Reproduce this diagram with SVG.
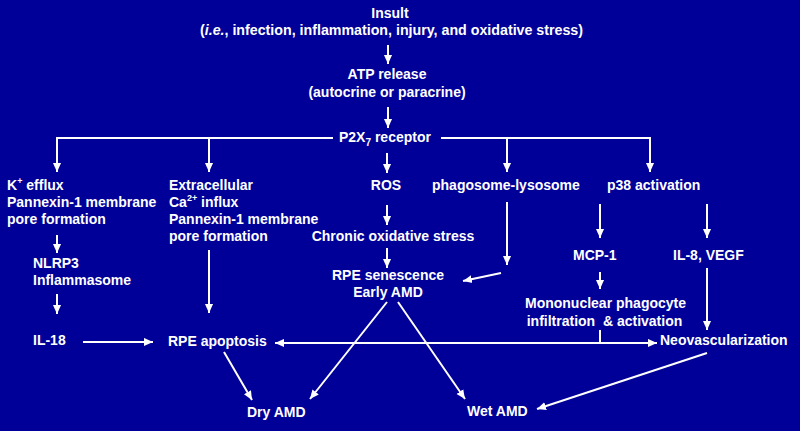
<svg xmlns="http://www.w3.org/2000/svg" width="800" height="431" viewBox="0 0 800 431">
<defs>
<marker id="ah" viewBox="0 0 10 10" refX="10" refY="5" markerWidth="9" markerHeight="9" markerUnits="userSpaceOnUse" orient="auto-start-reverse">
<path d="M0,0.5 L10,5 L0,9.5 Z" fill="#fff"/>
</marker>
<style>
text{font-family:"Liberation Sans",Arial,sans-serif;font-weight:bold;font-size:14px;fill:#fff}
.m{text-anchor:middle}
.c line,.c polyline{stroke:#fff;stroke-width:2;fill:none}
.a{marker-end:url(#ah)}
.b{marker-start:url(#ah);marker-end:url(#ah)}
</style>
</defs>
<rect width="800" height="431" fill="#000099"/>

<g id="insult">
<text class="m" x="390" y="18">Insult</text>
<text class="m" x="391.5" y="35" textLength="383" lengthAdjust="spacingAndGlyphs">(<tspan font-style="italic">i.e.</tspan>, infection, inflammation, injury, and oxidative stress)</text>
</g>
<g id="atp">
<text class="m" x="387" y="79">ATP release</text>
<text class="m" x="387" y="97">(autocrine or paracrine)</text>
</g>
<g id="p2x7">
<text x="339" y="142">P2X<tspan font-size="10" dy="4">7</tspan><tspan dy="-4"> receptor</tspan></text>
</g>
<g id="kefflux">
<text x="7" y="190">K<tspan font-size="9" dy="-6">+</tspan><tspan dy="6"> efflux</tspan></text>
<text x="7" y="207">Pannexin-1 membrane</text>
<text x="7" y="224">pore formation</text>
</g>
<g id="ca">
<text x="169" y="190">Extracellular</text>
<text x="169" y="207">Ca<tspan font-size="9" dy="-6">2+</tspan><tspan dy="6"> influx</tspan></text>
<text x="169" y="224">Pannexin-1 membrane</text>
<text x="169" y="241">pore formation</text>
</g>
<g id="ros"><text class="m" x="386" y="190">ROS</text></g>
<g id="phago"><text x="432" y="190">phagosome-lysosome</text></g>
<g id="p38"><text x="607" y="190">p38 activation</text></g>
<g id="nlrp3">
<text x="33" y="268">NLRP3</text>
<text x="33" y="285">Inflammasome</text>
</g>
<g id="il18"><text x="33" y="345">IL-18</text></g>
<g id="chronic"><text class="m" x="393" y="241">Chronic oxidative stress</text></g>
<g id="senescence">
<text class="m" x="388" y="280">RPE senescence</text>
<text class="m" x="388" y="297">Early AMD</text>
</g>
<g id="mcp1"><text x="573" y="260">MCP-1</text></g>
<g id="il8"><text x="673" y="260">IL-8, VEGF</text></g>
<g id="mono">
<text class="m" x="605.5" y="308">Mononuclear phagocyte</text>
<text class="m" x="604.5" y="326" style="white-space:pre">infiltration  &amp; activation</text>
</g>
<g id="apoptosis"><text x="168" y="346">RPE apoptosis</text></g>
<g id="neo"><text x="660" y="345">Neovascularization</text></g>
<g id="dry"><text x="247" y="417">Dry AMD</text></g>
<g id="wet"><text x="467" y="416">Wet AMD</text></g>

<g class="c" id="connectors">
<line class="a" x1="388" y1="45" x2="388" y2="64"/>
<line class="a" x1="388" y1="107" x2="388" y2="128"/>
<polyline points="333,138 57,138"/>
<polyline points="441,138 650,138"/>
<line class="a" x1="57" y1="137" x2="57" y2="172"/>
<line class="a" x1="209" y1="138" x2="209" y2="172"/>
<line class="a" x1="507" y1="138" x2="507" y2="172"/>
<line class="a" x1="650" y1="137" x2="650" y2="172"/>
<line class="a" x1="387" y1="153" x2="387" y2="173"/>
<line class="a" x1="57" y1="235" x2="57" y2="253"/>
<line class="a" x1="57" y1="294" x2="57" y2="314"/>
<line class="a" x1="209" y1="250" x2="209" y2="313"/>
<line class="a" x1="83" y1="342" x2="153" y2="342"/>
<line class="a" x1="387" y1="205" x2="387" y2="225"/>
<line class="a" x1="387" y1="248" x2="387" y2="268"/>
<line class="a" x1="507" y1="202" x2="507" y2="265"/>
<line class="a" x1="501" y1="273" x2="463" y2="281"/>
<line class="a" x1="600" y1="204" x2="600" y2="238"/>
<line class="a" x1="707" y1="204" x2="707" y2="238"/>
<line class="a" x1="600" y1="272" x2="600" y2="289"/>
<line class="a" x1="707" y1="268" x2="707" y2="330"/>
<line class="b" x1="275" y1="343" x2="657" y2="343"/>
<line x1="600" y1="330" x2="600" y2="343"/>
<line class="a" x1="224" y1="352" x2="252" y2="400"/>
<line class="a" x1="387" y1="302" x2="310" y2="399"/>
<line class="a" x1="398" y1="302" x2="465" y2="399"/>
<line class="a" x1="707" y1="353" x2="537" y2="409"/>
</g>
</svg>
